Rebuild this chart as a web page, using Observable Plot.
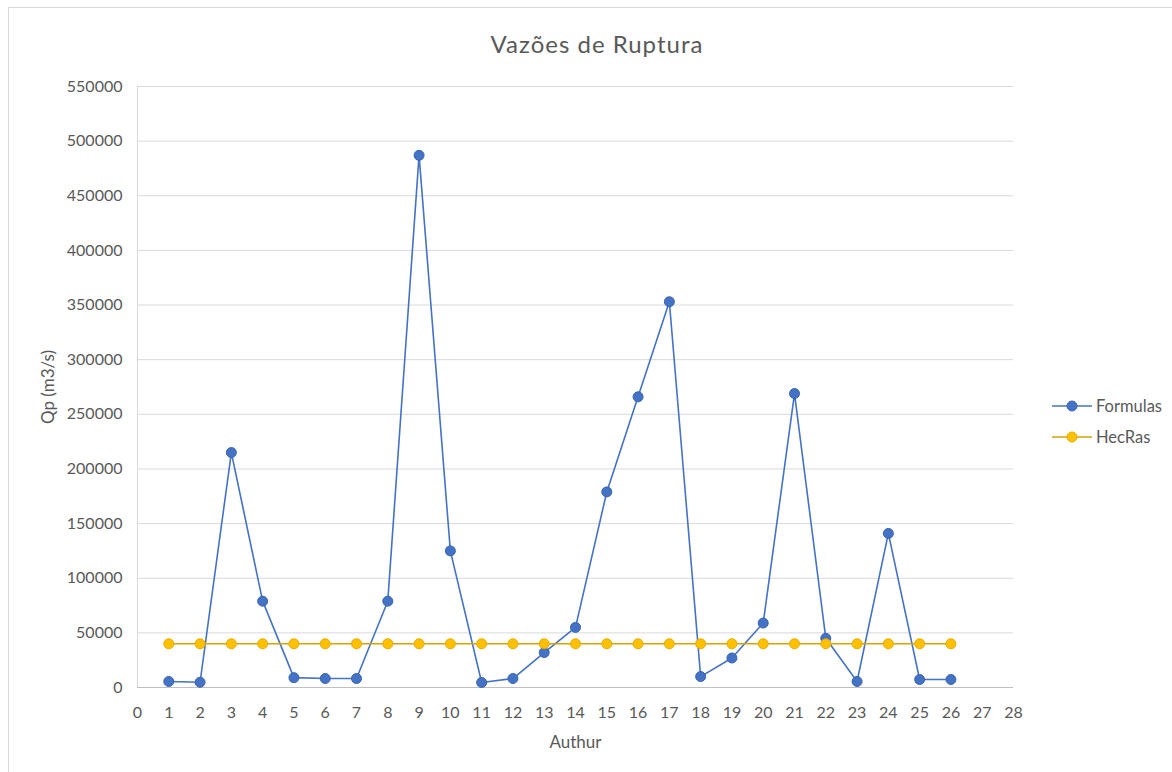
<!DOCTYPE html>
<html>
<head>
<meta charset="utf-8">
<script src="https://cdn.jsdelivr.net/npm/d3@7"></script>
<script src="https://cdn.jsdelivr.net/npm/@observablehq/plot@0.6"></script>
<style>
  html, body { margin: 0; padding: 0; background: #fff; }
  #frame { position: relative; width: 1164px; height: 764px; margin: 7px 0 0 8px; border-top: 1px solid #d9d9d9; border-left: 1px solid #d9d9d9; font-family: Lato, "Open Sans", sans-serif; color: #595959; overflow: hidden; }
  #title { position: absolute; left: 0; top: 0; width: 1176px; height: 62px; line-height: 72px; text-align: center; font-size: 24px; letter-spacing: 1px; color: #595959; }
  #chart { position: absolute; left: -8px; top: 62px; }
  #legend { position: absolute; left: 1042px; top: 382px; font-size: 16.5px; color: #595959; }
  .item { display: flex; align-items: center; height: 31px; }
  .item svg { margin-right: 3px; }
</style>
</head>
<body>
<div id="frame">
  <div id="title">Vazões de Ruptura</div>
  <div id="chart"></div>
  <div id="legend"></div>
</div>
<script>
const authors = [1,2,3,4,5,6,7,8,9,10,11,12,13,14,15,16,17,18,19,20,21,22,23,24,25,26];
const formulas = [5500,4800,215000,79000,9000,8200,8200,79000,487000,125000,4600,8200,32000,55000,179000,266000,353000,10000,27000,59000,269000,45000,5500,141000,7300,7300];
const hecras = [40000,40000,40000,40000,40000,40000,40000,40000,40000,40000,40000,40000,40000,40000,40000,40000,40000,40000,40000,40000,40000,40000,40000,40000,40000,40000];
const xTicks = d3.range(0, 29);
const yTicks = d3.range(0, 550001, 50000);
const seriesNames = ["Formulas", "HecRas"];
const lineColors = {Formulas: "#4472C4", HecRas: "#D9A300"};
const fillColors = {Formulas: "#4472C4", HecRas: "#FFC000"};
const strokeColors = {Formulas: "#3A64B0", HecRas: "#E6AC00"};

const data = [];
authors.forEach((a, i) => {
  data.push({author: a, value: formulas[i], series: "Formulas"});
  data.push({author: a, value: hecras[i], series: "HecRas"});
});

const chart = Plot.plot({
  width: 1172,
  height: 697,
  marginLeft: 136,
  marginRight: 160,
  marginTop: 16,
  marginBottom: 80,
  style: {fontFamily: "Lato, 'Open Sans', sans-serif", fontSize: "16px", color: "#595959"},
  x: {domain: [0, 28]},
  y: {domain: [0, 550000]},
  marks: [
    Plot.gridY(yTicks, {stroke: "#d9d9d9", strokeOpacity: 1, strokeWidth: 1}),
    Plot.ruleX([0], {stroke: "#d9d9d9"}),
    Plot.ruleY([0], {stroke: "#bfbfbf", strokeWidth: 1.2}),
    Plot.axisX({ticks: xTicks, tickFormat: d => String(d), tickSize: 0, tickPadding: 19, label: null, fill: "#595959", fontSize: 16}),
    Plot.axisY({ticks: yTicks, tickFormat: d => String(d), tickSize: 0, tickPadding: 15, label: null, fill: "#595959", fontSize: 16}),
    Plot.axisX({ticks: [], tickSize: 0, label: "Authur", labelAnchor: "center", labelOffset: 60, labelArrow: "none", fill: "#595959", fontSize: 17, letterSpacing: 0.8}),
    Plot.axisY({ticks: [], tickSize: 0, label: "Qp (m3/s)", labelAnchor: "center", labelOffset: 96, labelArrow: "none", fill: "#595959", fontSize: 17, letterSpacing: 0.6}),
    ...seriesNames.map(s => Plot.line(data.filter(d => d.series === s), {x: "author", y: "value", stroke: lineColors[s], strokeWidth: 1.6})),
    ...seriesNames.map(s => Plot.dot(data.filter(d => d.series === s), {x: "author", y: "value", r: 5, fill: fillColors[s], stroke: strokeColors[s], strokeWidth: 1}))
  ]
});
document.getElementById("chart").appendChild(chart);

const legend = document.getElementById("legend");
seriesNames.forEach(s => {
  const item = document.createElement("div");
  item.className = "item";
  item.innerHTML = `<svg width="42" height="14"><line x1="1" y1="7" x2="41" y2="7" stroke="${lineColors[s]}" stroke-width="1.6"/><circle cx="21" cy="7" r="5" fill="${fillColors[s]}" stroke="${strokeColors[s]}"/></svg><span>${s}</span>`;
  legend.appendChild(item);
});
</script>
</body>
</html>
